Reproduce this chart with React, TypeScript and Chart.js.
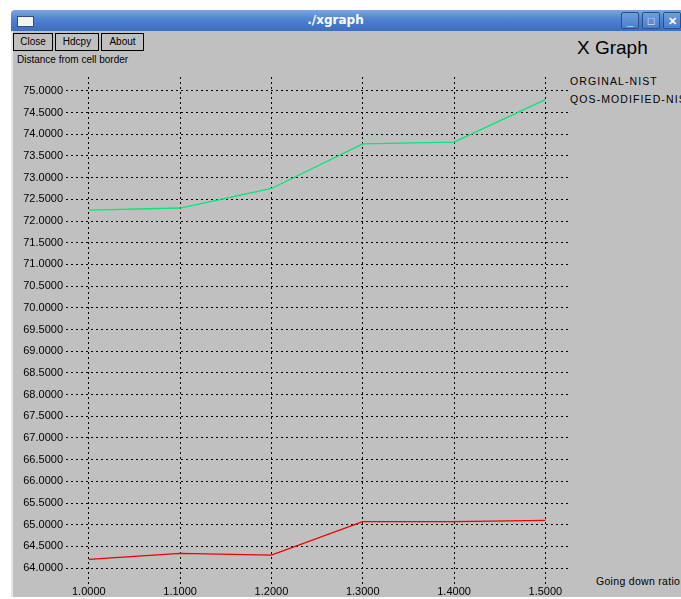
import React, { useEffect, useRef } from "react";
import { Chart, registerables } from "chart.js";

Chart.register(...registerables);

const seriesLabels = ["ORGINAL-NIST", "QOS-MODIFIED-NIST"];
const xValues = [1.0, 1.1, 1.2, 1.3, 1.4, 1.5];
const redValues = [64.2, 64.34, 64.3, 65.07, 65.07, 65.1];
const greenValues = [72.25, 72.3, 72.75, 73.78, 73.82, 74.8];
const yTicks = [64, 64.5, 65, 65.5, 66, 66.5, 67, 67.5, 68, 68.5, 69, 69.5, 70, 70.5, 71, 71.5, 72, 72.5, 73, 73.5, 74, 74.5, 75];
const xTicks = [1.0, 1.1, 1.2, 1.3, 1.4, 1.5];
const yTitle = "Distance from cell border";
const xTitle = "Going down ratio";
const windowTitle = "./xgraph";
const graphTitle = "X Graph";
const buttonLabels = ["Close", "Hdcpy", "About"];

const FONT = "'Liberation Sans', Arial, sans-serif";

export default function App() {
  const ref = useRef<HTMLCanvasElement | null>(null);

  useEffect(() => {
    if (!ref.current) return;
    const chart = new Chart(ref.current, {
      type: "line",
      data: {
        datasets: [
          {
            label: seriesLabels[0],
            data: xValues.map((x, i) => ({ x, y: redValues[i] })),
            borderColor: "#ee0000",
            borderWidth: 1.3,
            pointRadius: 0,
            fill: false,
          },
          {
            label: seriesLabels[1],
            data: xValues.map((x, i) => ({ x, y: greenValues[i] })),
            borderColor: "#00e878",
            borderWidth: 1.3,
            pointRadius: 0,
            fill: false,
          },
        ],
      },
      options: {
        animation: false,
        responsive: false,
        devicePixelRatio: 1,
        layout: { padding: { left: 0, right: 111, top: 77, bottom: 0 } },
        plugins: { legend: { display: false }, tooltip: { enabled: false } },
        scales: {
          x: {
            type: "linear",
            min: 0.975,
            max: 1.527,
            afterBuildTicks: (s: any) => {
              s.ticks = xTicks.map((v) => ({ value: v }));
            },
            afterFit: (s: any) => {
              s.height = 14;
            },
            ticks: {
              color: "#000",
              font: { family: FONT, size: 11 },
              padding: 0,
              maxRotation: 0,
              autoSkip: false,
              callback: (v: any) => Number(v).toFixed(4),
            },
            grid: { color: "#000", lineWidth: 1, drawTicks: false },
            border: { display: false, dash: [2, 3] },
          },
          y: {
            type: "linear",
            min: 63.61,
            max: 75.32,
            afterBuildTicks: (s: any) => {
              s.ticks = yTicks.map((v) => ({ value: v }));
            },
            afterFit: (s: any) => {
              s.width = 66;
            },
            ticks: {
              color: "#000",
              font: { family: FONT, size: 11 },
              padding: 3,
              autoSkip: false,
              callback: (v: any) => Number(v).toFixed(4),
            },
            grid: { color: "#000", lineWidth: 1, drawTicks: false },
            border: { display: false, dash: [2, 3] },
          },
        },
      },
    });
    return () => chart.destroy();
  }, []);

  const abs = (s: React.CSSProperties): React.CSSProperties => ({ position: "absolute", ...s });

  return (
    <div style={{ position: "fixed", left: 0, top: 0, width: 681, height: 599, background: "#fff", overflow: "hidden", fontFamily: FONT }}>
      <div style={abs({ left: 11, top: 31, width: 670, height: 566, background: "#c0c0c0", borderLeft: "2px solid #e6e6e6", boxSizing: "border-box" })} />
      <div
        style={abs({
          left: 11,
          top: 10,
          width: 670,
          height: 21,
          borderTopLeftRadius: 4,
          background: "linear-gradient(#7aa6e4, #4d82cf 45%, #3c6fbe)",
        })}
      />
      <div style={abs({ left: 17, top: 16, width: 15, height: 9, background: "#f4f4f4", border: "1px solid #2a4f8a" })} />
      <div style={abs({ left: 0, width: 671, top: 13, textAlign: "center", color: "#fff", fontWeight: "bold", fontSize: 12, fontFamily: "'DejaVu Sans', sans-serif" })}>
        {windowTitle}
      </div>
      {["_", "\u25a1", "\u2715"].map((s, i) => (
        <div
          key={i}
          style={abs({
            left: 621 + i * 21,
            top: 12,
            width: 18,
            height: 17,
            border: "1px solid #2b4f8c",
            borderRadius: 2,
            background: "linear-gradient(#6f9de0, #4a7fcc)",
            color: "#fff",
            fontSize: 11,
            fontWeight: "bold",
            textAlign: "center",
            lineHeight: "17px",
            boxSizing: "border-box",
          })}
        >
          {s}
        </div>
      ))}
      {buttonLabels.map((b, i) => (
        <div
          key={b}
          style={abs({
            left: [13, 55, 101][i],
            top: 33,
            width: [40, 44, 43][i],
            height: 18,
            border: "1px solid #000",
            boxSizing: "border-box",
            fontSize: 10,
            lineHeight: "16px",
            textAlign: "center",
            color: "#000",
          })}
        >
          {b}
        </div>
      ))}
      <div style={abs({ left: 17, top: 54, fontSize: 10, color: "#000", whiteSpace: "nowrap" })}>{yTitle}</div>
      <div style={abs({ left: 577, top: 37, fontSize: 19, color: "#000", whiteSpace: "nowrap" })}>{graphTitle}</div>
      {seriesLabels.map((l, i) => (
        <div key={l} style={abs({ left: 570, top: 75 + i * 18, fontSize: 10.5, color: "#000", whiteSpace: "nowrap", letterSpacing: 1.1 })}>
          {l}
        </div>
      ))}
      <div style={abs({ left: 596, top: 575, fontSize: 10.5, color: "#000", whiteSpace: "nowrap", letterSpacing: 0.3 })}>{xTitle}</div>
      <canvas ref={ref} width={681} height={599} style={abs({ left: 0, top: 0, width: 681, height: 599 })} />
    </div>
  );
}
